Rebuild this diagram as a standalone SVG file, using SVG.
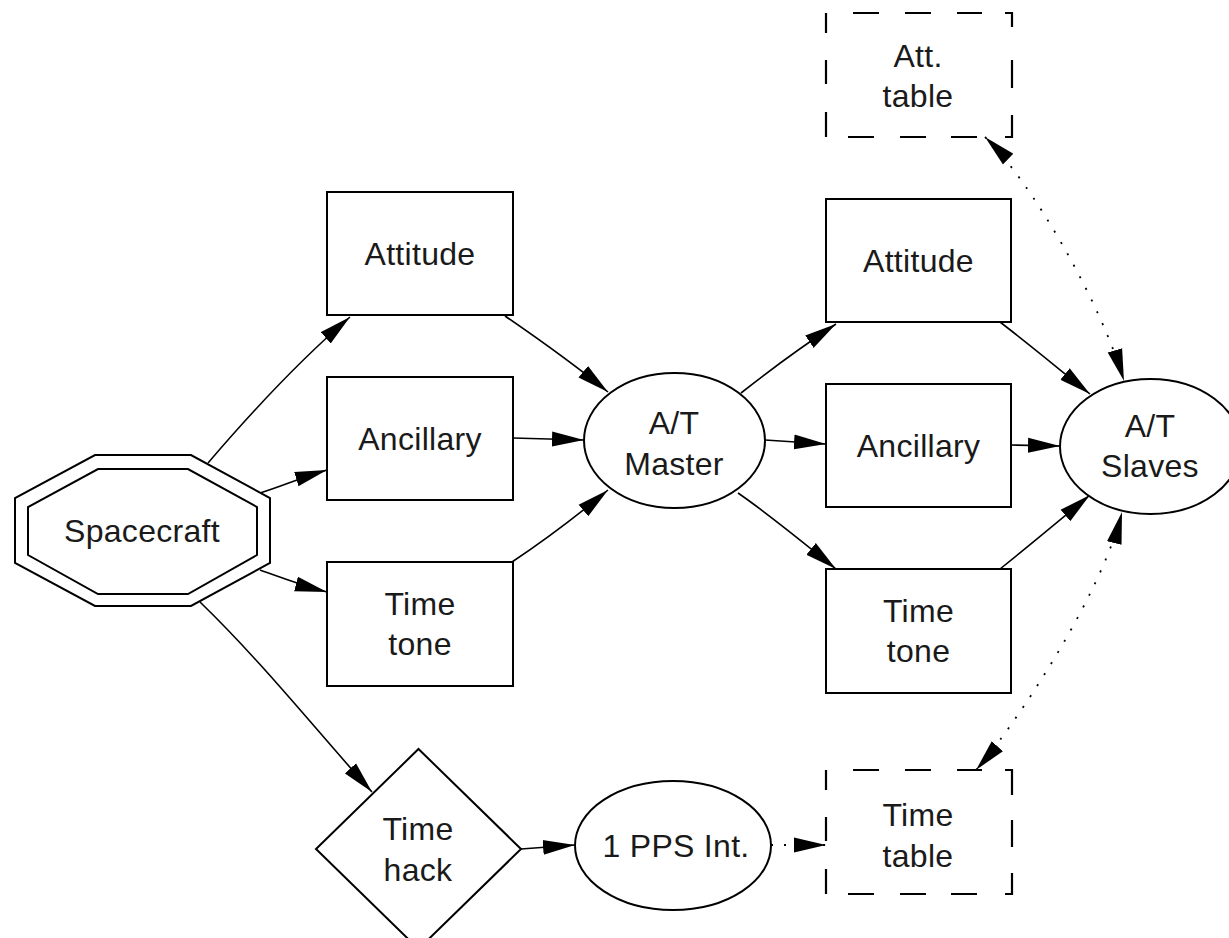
<svg xmlns="http://www.w3.org/2000/svg" width="1229" height="938" viewBox="0 0 1229 938">
<style>
.n{fill:#fff;stroke:#000;stroke-width:2}
.t{font-family:"Liberation Sans",Arial,sans-serif;font-size:32px;fill:#1a1a1a;text-anchor:middle;letter-spacing:0.3px}
.e{fill:none;stroke:#000;stroke-width:1.6}
.d{fill:none;stroke:#000;stroke-width:1.8;stroke-dasharray:2 11}
.dash{fill:none;stroke:#000;stroke-width:2.2}
</style>
<defs>
<marker id="ah" markerUnits="userSpaceOnUse" viewBox="0 0 32 16" refX="32" refY="8" markerWidth="32" markerHeight="16" orient="auto-start-reverse">
<path d="M0,0.5 L32,8 L0,15.5 Z" fill="#000"/>
</marker>
</defs>
<rect width="1229" height="938" fill="#fff"/>
<g id="connectors">
<path class="e" d="M208,463 C255,408 300,360 350,317" marker-end="url(#ah)"/>
<path class="e" d="M260,493 C280,487 300,478 327,470" marker-end="url(#ah)"/>
<path class="e" d="M260,570 C280,577 300,585 327,592" marker-end="url(#ah)"/>
<path class="e" d="M200,602 C265,665 320,735 372,792" marker-end="url(#ah)"/>
<path class="e" d="M505,316 C540,340 575,365 608,392" marker-end="url(#ah)"/>
<path class="e" d="M513,438 L584,440" marker-end="url(#ah)"/>
<path class="e" d="M512,562 C545,540 578,515 608,490" marker-end="url(#ah)"/>
<path class="e" d="M741,393 C770,370 800,348 836,324" marker-end="url(#ah)"/>
<path class="e" d="M765,440 L826,444" marker-end="url(#ah)"/>
<path class="e" d="M738,493 C770,515 800,540 836,569" marker-end="url(#ah)"/>
<path class="e" d="M1000,322 C1030,345 1060,370 1090,394" marker-end="url(#ah)"/>
<path class="e" d="M1011,445 L1060,446" marker-end="url(#ah)"/>
<path class="e" d="M1000,569 C1030,545 1060,520 1090,495" marker-end="url(#ah)"/>
<path class="d" d="M985,137 C1030,180 1100,300 1124,381" marker-start="url(#ah)" marker-end="url(#ah)"/>
<path class="d" d="M976,770 C1010,732 1100,600 1122,512" marker-start="url(#ah)" marker-end="url(#ah)"/>
<path class="e" d="M521,849 L575,845" marker-end="url(#ah)"/>
<path class="d" d="M771,845 L826,845" marker-end="url(#ah)"/>
</g>
<g id="spacecraft">
<polygon class="n" points="95,455 191,455 270,498 270,563 191,606 95,606 15,563 15,498"/>
<polygon class="n" points="98,469 188,469 257,507 257,555 188,594 98,594 28,555 28,507"/>
<text class="t" x="142" y="542">Spacecraft</text>
</g>
<g id="attitude1">
<rect class="n" x="327" y="192" width="186" height="123"/>
<text class="t" x="420" y="265">Attitude</text>
</g>
<g id="ancillary1">
<rect class="n" x="327" y="377" width="186" height="123"/>
<text class="t" x="420" y="450">Ancillary</text>
</g>
<g id="timetone1">
<rect class="n" x="327" y="562" width="186" height="124"/>
<text class="t" x="420" y="615">Time</text>
<text class="t" x="420" y="655">tone</text>
</g>
<g id="master">
<ellipse class="n" cx="674.5" cy="440.5" rx="90.5" ry="67.5"/>
<text class="t" x="674" y="434">A/T</text>
<text class="t" x="674" y="475">Master</text>
</g>
<g id="attitude2">
<rect class="n" x="826" y="199" width="185" height="123"/>
<text class="t" x="918.5" y="272">Attitude</text>
</g>
<g id="ancillary2">
<rect class="n" x="826" y="384" width="185" height="123"/>
<text class="t" x="918.5" y="457">Ancillary</text>
</g>
<g id="timetone2">
<rect class="n" x="826" y="569" width="185" height="124"/>
<text class="t" x="918.5" y="622">Time</text>
<text class="t" x="918.5" y="662">tone</text>
</g>
<g id="slaves">
<ellipse class="n" cx="1150.5" cy="446.5" rx="90.5" ry="67.5"/>
<text class="t" x="1150" y="437">A/T</text>
<text class="t" x="1150" y="477">Slaves</text>
</g>
<g id="atttable">
<path class="dash" d="M826,13 V33 M826,60 V84 M826,112 V137 M853,13 H879 M905,13 H931 M957,13 H982 M1005,13 H1012 V27 M1012,60 V88 M1012,115 V137 H1005 M848,137 H874 M900,137 H926 M951,137 H977"/>
<text class="t" x="918" y="67">Att.</text>
<text class="t" x="918" y="107">table</text>
</g>
<g id="timetable">
<path class="dash" d="M826,770 V790 M826,817 V841 M826,869 V894 M853,770 H879 M905,770 H931 M957,770 H982 M1005,770 H1012 V795 M1012,820 V847 M1012,873 V894 H1005 M848,894 H874 M900,894 H926 M951,894 H977"/>
<text class="t" x="918" y="826">Time</text>
<text class="t" x="918" y="867">table</text>
</g>
<g id="timehack">
<polygon class="n" points="418.5,749 521,849 418.5,949 316,849"/>
<text class="t" x="418" y="840">Time</text>
<text class="t" x="418" y="881">hack</text>
</g>
<g id="pps">
<ellipse class="n" cx="673" cy="845.5" rx="98" ry="64.5"/>
<text class="t" x="676" y="857">1 PPS Int.</text>
</g>
</svg>
